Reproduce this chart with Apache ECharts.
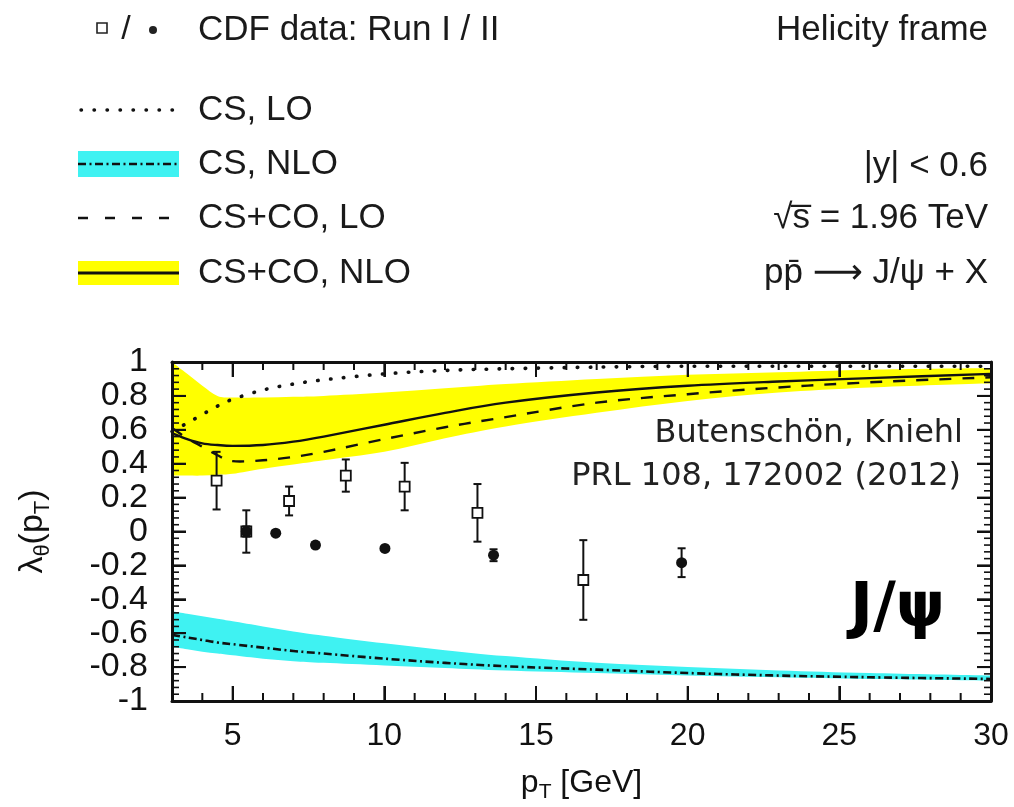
<!DOCTYPE html>
<html><head><meta charset="utf-8">
<script src="https://cdn.jsdelivr.net/npm/echarts@6/dist/echarts.min.js"></script>
<style>html,body{margin:0;padding:0;background:#fff}#c{width:1014px;height:807px}</style>
</head><body><div id="c"></div>
<script>
// ---- data ----
const ptGrid    = [3, 3.5, 4, 4.5, 5, 6, 7, 8, 10, 12, 14, 17, 20, 23, 26, 30];
const csLO      = [0.59, 0.64, 0.69, 0.74, 0.78, 0.835, 0.87, 0.895, 0.93, 0.95, 0.96, 0.97, 0.975, 0.975, 0.975, 0.975];
const csNLO     = [-0.61, -0.625, -0.64, -0.655, -0.665, -0.685, -0.705, -0.72, -0.75, -0.775, -0.795, -0.815, -0.835, -0.85, -0.86, -0.87];
const csNLO_hi  = [-0.47, -0.485, -0.50, -0.515, -0.53, -0.56, -0.59, -0.615, -0.66, -0.70, -0.735, -0.775, -0.80, -0.82, -0.835, -0.85];
const csNLO_lo  = [-0.68, -0.695, -0.71, -0.72, -0.73, -0.75, -0.765, -0.775, -0.79, -0.805, -0.82, -0.835, -0.85, -0.86, -0.87, -0.88];
const ccLO      = [0.61, 0.55, 0.50, 0.45, 0.415, 0.42, 0.44, 0.47, 0.545, 0.615, 0.675, 0.76, 0.81, 0.85, 0.88, 0.91];
const ccNLO     = [0.58, 0.545, 0.52, 0.51, 0.505, 0.51, 0.53, 0.56, 0.63, 0.70, 0.76, 0.82, 0.86, 0.885, 0.905, 0.93];
const ccNLO_hi  = [1.0, 0.93, 0.86, 0.80, 0.79, 0.79, 0.795, 0.80, 0.82, 0.845, 0.87, 0.90, 0.925, 0.94, 0.955, 0.965];
const ccNLO_lo  = [0.33, 0.33, 0.33, 0.335, 0.34, 0.37, 0.395, 0.42, 0.47, 0.55, 0.62, 0.70, 0.77, 0.82, 0.85, 0.875];

const run1X   = [4.47, 5.45, 6.86, 8.73, 10.67, 13.07, 16.56];
const run1Y   = [0.30, 0.0, 0.18, 0.33, 0.265, 0.11, -0.286];
const run1Err = [0.17, 0.125, 0.085, 0.095, 0.14, 0.17, 0.235];
const run2X   = [5.45, 6.42, 7.73, 10.02, 13.6, 19.8];
const run2Y   = [0.0, -0.01, -0.08, -0.10, -0.14, -0.184];
const run2Err = [0.03, 0.015, 0.015, 0.015, 0.035, 0.085];

const xTickValues = [5, 10, 15, 20, 25, 30];
const xMin = 3, xMax = 30, yMin = -1, yMax = 1, yStep = 0.2;
const xMinorStep = 1, yMinorStep = 0.04;

// ---- helpers ----
const FONT = "'Liberation Sans', Arial, 'DejaVu Sans', sans-serif";
const INK = '#111';

function errItem(params, api) {
  const x = api.value(0), y = api.value(1), e = api.value(2);
  const a = api.coord([x, y + e]), b = api.coord([x, y - e]);
  const c = 4, st = {stroke: INK, lineWidth: 2};
  return {type: 'group', children: [
    {type: 'line', shape: {x1: a[0], y1: a[1], x2: b[0], y2: b[1]}, style: st},
    {type: 'line', shape: {x1: a[0] - c, y1: a[1], x2: a[0] + c, y2: a[1]}, style: st},
    {type: 'line', shape: {x1: b[0] - c, y1: b[1], x2: b[0] + c, y2: b[1]}, style: st}
  ]};
}

// Catmull-Rom cubic segments through pixel points (path already at pts[0])
function crSegments(pts) {
  let d = '';
  for (let i = 0; i < pts.length - 1; i++) {
    const p0 = pts[Math.max(i - 1, 0)], p1 = pts[i], p2 = pts[i + 1], p3 = pts[Math.min(i + 2, pts.length - 1)];
    const c1x = p1[0] + (p2[0] - p0[0]) / 6, c1y = p1[1] + (p2[1] - p0[1]) / 6;
    const c2x = p2[0] - (p3[0] - p1[0]) / 6, c2y = p2[1] - (p3[1] - p1[1]) / 6;
    d += ` C${c1x.toFixed(2)},${c1y.toFixed(2)} ${c2x.toFixed(2)},${c2y.toFixed(2)} ${p2[0].toFixed(2)},${p2[1].toFixed(2)}`;
  }
  return d;
}

function band(name, hi, lo, color) {
  return {
    name, type: 'custom', z: 1, silent: true, encode: {x: 0, y: [1, 2]},
    data: ptGrid.map((x, i) => [x, lo[i], hi[i]]),
    renderItem(params, api) {
      if (params.dataIndex !== 0) return null;
      const up = ptGrid.map((x, i) => api.coord([x, hi[i]]));
      const dn = ptGrid.map((x, i) => api.coord([x, lo[i]])).reverse();
      const d = `M${up[0][0]},${up[0][1]}` + crSegments(up) +
                ` L${dn[0][0]},${dn[0][1]}` + crSegments(dn) + ' Z';
      return {type: 'path', shape: {pathData: d}, style: {fill: color, stroke: null}};
    }
  };
}

function curve(name, ys, dash, width, cap) {
  return {
    name, type: 'custom', z: 3, silent: true, encode: {x: 0, y: 1},
    data: ptGrid.map((x, i) => [x, ys[i]]),
    renderItem(params, api) {
      if (params.dataIndex !== 0) return null;
      const p = ptGrid.map((x, i) => api.coord([x, ys[i]]));
      const d = `M${p[0][0]},${p[0][1]}` + crSegments(p);
      return {type: 'path', shape: {pathData: d},
              style: {fill: null, stroke: INK, lineWidth: width, lineDash: dash, lineCap: cap || 'butt'}};
    }
  };
}

// inside frame ticks on all four sides, positioned through the axes' scales
function frameTicks(params, api) {
  if (params.dataIndex !== 0) return null;
  const kids = [];
  const L = (x1, y1, x2, y2, w) => kids.push({type: 'line', shape: {x1, y1, x2, y2}, style: {stroke: INK, lineWidth: w}});
  const near = (v, arr) => arr.some(a => Math.abs(a - v) < 1e-6);
  for (let k = 0; xMin + k * xMinorStep <= xMax + 1e-9; k++) {
    const v = +(xMin + k * xMinorStep).toFixed(6);
    const len = near(v, xTickValues) ? 15 : 8, w = 2;
    const b = api.coord([v, yMin]), t = api.coord([v, yMax]);
    L(b[0], b[1], b[0], b[1] - len, w);
    L(t[0], t[1], t[0], t[1] + len, w);
  }
  for (let k = 0; yMin + k * yMinorStep <= yMax + 1e-9; k++) {
    const v = yMin + k * yMinorStep;
    const major = Math.abs(v / yStep - Math.round(v / yStep)) < 1e-6;
    const len = major ? 14 : 7, w = major ? 2 : 1.6;
    const l = api.coord([xMin, v]), r = api.coord([xMax, v]);
    L(l[0], l[1], l[0] + len, l[1], w);
    L(r[0], r[1], r[0] - len, r[1], w);
  }
  return {type: 'group', children: kids};
}

const DOT = [0.5, 12.5], DASH = [12, 11], DASHDOT = [8, 3.5, 2, 3.5];

const txt = (text, x, y, align, size, extra) => ({
  type: 'text', x, y, silent: true,
  style: Object.assign({text, fontSize: size, fontFamily: FONT, fill: '#1a1a1a',
    align, verticalAlign: 'middle', textAlign: align, textVerticalAlign: 'middle'}, extra || {})
});

const xBase = {type: 'value', min: xMin, max: xMax, splitLine: {show: false}, z: 10};
const yBase = {type: 'value', min: yMin, max: yMax, interval: yStep, splitLine: {show: false}, z: 10};

const chart = echarts.init(document.getElementById('c'), null, {renderer: 'canvas'});
chart.setOption({
  backgroundColor: '#fff',
  animation: false,
  grid: {left: 172, right: 23, top: 362, bottom: 106, outerBoundsMode: 'none', containLabel: false},
  xAxis: [
    Object.assign({}, xBase, {position: 'bottom',
     axisLine: {show: true, onZero: false, lineStyle: {color: INK, width: 3}},
     axisTick: {show: true, inside: true, length: 15, customValues: xTickValues, lineStyle: {color: INK, width: 2}},
     axisLabel: {show: true, customValues: xTickValues, fontSize: 32, fontFamily: FONT, color: INK, margin: 19},
     name: '{a|p}{s|T}{a| [GeV]}', nameLocation: 'middle', nameGap: 62,
     nameTextStyle: {rich: {
       a: {fontSize: 32, fontFamily: FONT, color: INK, lineHeight: 40},
       s: {fontSize: 21, fontFamily: FONT, color: INK, lineHeight: 22, verticalAlign: 'bottom'}}}}),
    Object.assign({}, xBase, {position: 'top',
     axisLine: {show: true, onZero: false, lineStyle: {color: INK, width: 3}}, axisLabel: {show: false},
     axisTick: {show: true, inside: true, length: 15, customValues: xTickValues, lineStyle: {color: INK, width: 2}}})
  ],
  yAxis: [
    Object.assign({}, yBase, {position: 'left',
     axisLine: {show: true, onZero: false, lineStyle: {color: INK, width: 3}},
     axisTick: {show: true, inside: true, length: 14, lineStyle: {color: INK, width: 2}},
     axisLabel: {fontSize: 34, fontFamily: FONT, color: INK, margin: 24},
     name: '{a|λ}{s|θ}{a|(p}{s|T}{a|)}', nameLocation: 'middle', nameGap: 118,
     nameTextStyle: {rich: {
       a: {fontSize: 34, fontFamily: FONT, color: INK, lineHeight: 42},
       s: {fontSize: 22, fontFamily: FONT, color: INK, lineHeight: 22, verticalAlign: 'bottom'}}}}),
    Object.assign({}, yBase, {position: 'right',
     axisLine: {show: true, onZero: false, lineStyle: {color: INK, width: 3}}, axisLabel: {show: false},
     axisTick: {show: true, inside: true, length: 14, lineStyle: {color: INK, width: 2}}})
  ],
  series: [
    band('CS+CO, NLO band', ccNLO_hi, ccNLO_lo, '#ffff00'),
    band('CS, NLO band', csNLO_hi, csNLO_lo, '#3ff2f2'),
    curve('CS, LO', csLO, DOT, 3.6, 'round'),
    curve('CS, NLO', csNLO, DASHDOT, 2.6),
    curve('CS+CO, LO', ccLO, DASH, 2.4),
    curve('CS+CO, NLO', ccNLO, null, 2.4),
    {name: 'Run I err', type: 'custom', renderItem: errItem, z: 4, silent: true,
     encode: {x: 0, y: 1}, data: run1X.map((x, i) => [x, run1Y[i], run1Err[i]])},
    {name: 'Run II err', type: 'custom', renderItem: errItem, z: 4, silent: true,
     encode: {x: 0, y: 1}, data: run2X.map((x, i) => [x, run2Y[i], run2Err[i]])},
    {name: 'CDF Run I', type: 'scatter', symbol: 'rect', symbolSize: 10, z: 5, silent: true,
     itemStyle: {color: '#fff', borderColor: INK, borderWidth: 1.8, opacity: 1},
     data: run1X.map((x, i) => [x, run1Y[i]])},
    {name: 'CDF Run II', type: 'scatter', symbol: 'circle', symbolSize: 11, z: 6, silent: true,
     itemStyle: {color: INK, opacity: 1},
     data: run2X.map((x, i) => [x, run2Y[i]])},
    {name: 'frame ticks', type: 'custom', renderItem: frameTicks, z: 20, silent: true,
     encode: {x: 0, y: 1}, data: [[xMin, yMin]]}
  ],
  graphic: [
    // legend
    {type: 'rect', shape: {x: 97, y: 23, width: 10, height: 10}, style: {fill: '#fff', stroke: '#222', lineWidth: 1.6}, silent: true},
    txt('/', 126, 30, 'center', 34),
    {type: 'circle', shape: {cx: 153, cy: 30, r: 4}, style: {fill: '#222'}, silent: true},
    txt('CDF data: Run I / II', 198, 30, 'left', 35),

    {type: 'line', shape: {x1: 81, y1: 110, x2: 178, y2: 110}, style: {stroke: INK, lineWidth: 3.4, lineDash: DOT, lineCap: 'round'}, silent: true},
    txt('CS, LO', 198, 110, 'left', 35),

    {type: 'rect', shape: {x: 78, y: 151, width: 101, height: 26}, style: {fill: '#3ff2f2'}, silent: true},
    {type: 'line', shape: {x1: 78, y1: 164, x2: 179, y2: 164}, style: {stroke: INK, lineWidth: 2.6, lineDash: DASHDOT}, silent: true},
    txt('CS, NLO', 198, 164, 'left', 35),

    {type: 'line', shape: {x1: 78, y1: 218, x2: 172, y2: 218}, style: {stroke: INK, lineWidth: 2.4, lineDash: [10, 17]}, silent: true},
    txt('CS+CO, LO', 198, 218, 'left', 35),

    {type: 'rect', shape: {x: 78, y: 261, width: 101, height: 24}, style: {fill: '#ffff00'}, silent: true},
    {type: 'line', shape: {x1: 78, y1: 273, x2: 179, y2: 273}, style: {stroke: INK, lineWidth: 3}, silent: true},
    txt('CS+CO, NLO', 198, 273, 'left', 35),

    // right-hand info
    txt('Helicity frame', 988, 30, 'right', 35),
    txt('|y| < 0.6', 988, 166, 'right', 35),
    txt('\u221As\u0305 = 1.96 TeV', 988, 218, 'right', 35),
    txt('pp\u0304 \u27F6 J/\u03C8 + X', 988, 273, 'right', 35),

    // in-plot annotations
    txt('Butensch\u00F6n, Kniehl', 963, 434, 'right', 32, {fontFamily: "'DejaVu Sans', sans-serif", fill: '#222'}),
    txt('PRL 108, 172002 (2012)', 961, 477, 'right', 32, {fontFamily: "'DejaVu Sans', sans-serif", fill: '#222'}),
    txt('J/\u03C8', 945, 610, 'right', 62, {fontFamily: "'DejaVu Sans', sans-serif", fontWeight: 'bold', fill: '#000'})
  ]
});
</script>
</body></html>
